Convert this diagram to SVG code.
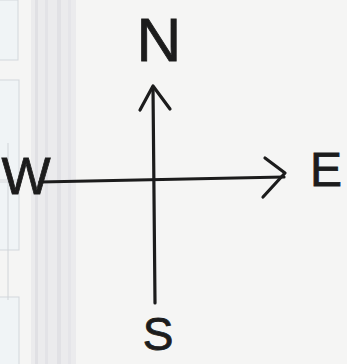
<svg xmlns="http://www.w3.org/2000/svg" width="347" height="364" viewBox="0 0 347 364">
<style>
.pen{fill:none;stroke:#1c1c1c;stroke-width:3.2;stroke-linecap:round;stroke-linejoin:round}
.lbl{font-family:"Liberation Sans","DejaVu Sans",sans-serif;fill:#1c1c1c;stroke:#1c1c1c;stroke-width:0.8;text-anchor:middle}
.tab{fill:#f0f4f6;stroke:#d3d8dc;stroke-width:1}
</style>
<rect width="347" height="364" fill="#f5f5f4"/>
<g id="paper">
<rect x="31" y="0" width="45" height="364" fill="#ebebed"/>
<rect x="35" y="0" width="3" height="364" fill="#e0e0e4"/>
<rect x="45" y="0" width="3" height="364" fill="#e3e3e7"/>
<rect x="57" y="0" width="4" height="364" fill="#e1e1e5"/>
<rect x="68" y="0" width="3" height="364" fill="#e5e5e9"/>
<rect x="-2" y="0" width="20" height="60" class="tab"/>
<rect x="-2" y="80" width="21" height="100" class="tab"/>
<rect x="-2" y="182" width="21" height="68" class="tab"/>
<rect x="-2" y="297" width="21" height="70" class="tab"/>
<line x1="8" y1="143" x2="8" y2="300" stroke="#d0d4d8" stroke-width="1"/>
</g>
<g id="connectors">
<path class="pen" d="M40,182 L284,177"/>
<path class="pen" d="M265,158 L285,173 L263,197"/>
<path class="pen" d="M153,87 L155,303"/>
<path class="pen" d="M140,110 L153,86 L170,109"/>
</g>
<g id="N"><text class="lbl" x="159" y="61" font-size="62">N</text></g>
<g id="E"><text class="lbl" x="326" y="186" font-size="48">E</text></g>
<g id="S"><text class="lbl" x="158" y="350" font-size="46">S</text></g>
<g id="W"><text class="lbl" x="26" y="194" font-size="52">W</text></g>
</svg>
